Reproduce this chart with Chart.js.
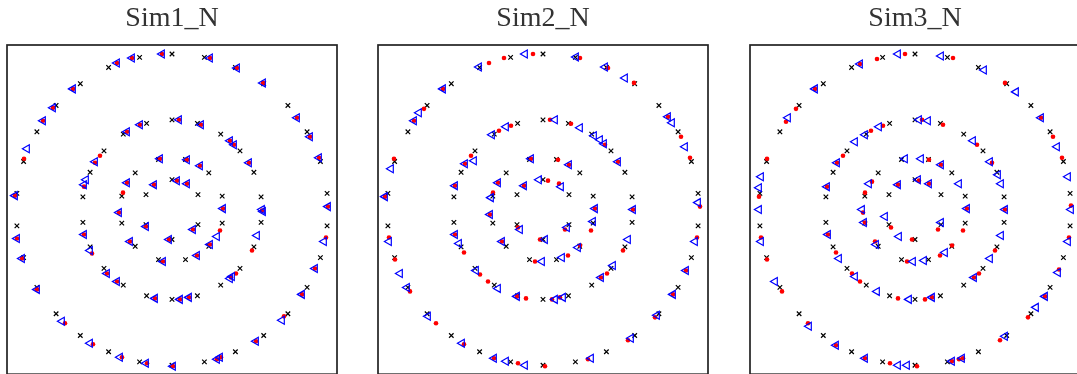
<!DOCTYPE html>
<html>
<head>
<meta charset="utf-8">
<script src="https://cdn.jsdelivr.net/npm/chart.js@4.4.1/dist/chart.umd.min.js"></script>
<style>
  html, body { margin: 0; padding: 0; background: #fff; width: 1077px; height: 374px; overflow: hidden; }
  .panel { position: absolute; top: 0; width: 370px; height: 380px; }
</style>
</head>
<body>
<div class="panel" style="left:-13px"><canvas id="sim1" width="370" height="380"></canvas></div>
<div class="panel" style="left:358px"><canvas id="sim2" width="370" height="380"></canvas></div>
<div class="panel" style="left:730px"><canvas id="sim3" width="370" height="380"></canvas></div>
<script>
// Reference layout: four concentric rings (shared by all three runs), [x, y]
const truePoints = [
  [0,30],[26,15],[26,-15],[0,-30],[-26,-15],[-26,15],
  [50.2,13.5],[36.8,36.8],[13.5,50.2],[-13.5,50.2],[-36.8,36.8],[-50.2,13.5],
  [-50.2,-13.5],[-36.8,-36.8],[-13.5,-50.2],[13.5,-50.2],[36.8,-36.8],[50.2,-13.5],
  [0,90],[25.4,86.4],[48.7,75.7],[68,58.9],[81.9,37.4],[89.1,12.8],[89.1,-12.8],[81.9,-37.4],
  [68,-58.9],[48.7,-75.7],[25.4,-86.4],[0,-90],[-25.4,-86.4],[-48.7,-75.7],[-68,-58.9],
  [-81.9,-37.4],[-89.1,-12.8],[-89.1,12.8],[-81.9,37.4],[-68,58.9],[-48.7,75.7],[-25.4,86.4],
  [155.1,16.3],[148.4,48.2],[135.1,78],[115.9,104.4],[91.7,126.2],[63.4,142.5],[32.4,152.6],[0,156],
  [-32.4,152.6],[-63.4,142.5],[-91.7,126.2],[-115.9,104.4],[-135.1,78],[-148.4,48.2],[-155.1,16.3],
  [-155.1,-16.3],[-148.4,-48.2],[-135.1,-78],[-115.9,-104.4],[-91.7,-126.2],[-63.4,-142.5],
  [-32.4,-152.6],[0,-156],[32.4,-152.6],[63.4,-142.5],[91.7,-126.2],[115.9,-104.4],[135.1,-78],
  [148.4,-48.2],[155.1,-16.3]
];

// Sim1: estimated positions (red) and recovered positions (blue)
const sim1Red = [
  [-10,156],[38,152],[-40,152],[-55,147],[65,142],[91,127],[-99,121],[-119,102],[-129,89],[125,92],
  [138,73],[147,52],[-148,51],[-157,14],
  [7,90],[29,85],[-32,85],[-45,78],[58,69],[62,65],[77,47],[-72,54],[-77,47],[-88,23],[-45,27],[-49,17],
  [-12,51],[15,50],[28,44],[-18,25],[5,29],[15,26],
  [156,3],[90,-1],[51,1],[-53,-3],[-155,-29],[-88,-25],[-26,-17],[21,-20],[-3,-30],[-42,-32],[-80,-44],
  [48,-21],[38,-35],[80,-41],[154,-28],[25,-46],[-9,-52],[-150,-49],[143,-59],[-65,-64],[64,-64],
  [59,-68],[-55,-72],[-135,-80],[130,-85],[-17,-89],[8,-90],[17,-88],[-107,-114],[112,-107],
  [-79,-135],[84,-132],[-50,-148],[-25,-154],[1,-157],[45,-150],[49,-148]
];
const sim1Blue = [
  [-10,156],[38,152],[-40,152],[-55,147],[65,142],[91,127],[-99,121],[-119,102],[-129,89],[125,92],
  [138,73],[147,52],[-145,61],[-157,14],
  [7,90],[29,85],[-32,85],[-45,78],[58,69],[62,65],[77,47],[-77,48],[-86,30],[-88,25],[-45,27],
  [-12,51],[15,50],[28,44],[-18,25],[5,29],[15,26],
  [156,3],[90,0],[91,-2],[51,1],[-53,-3],[-155,-29],[-88,-25],[-26,-17],[21,-20],[-3,-30],[-42,-32],
  [-82,-41],[45,-27],[38,-35],[85,-26],[152,-32],[25,-46],[-9,-52],[-150,-49],[143,-59],[-65,-64],
  [58,-69],[60,-67],[-55,-72],[-135,-80],[130,-85],[-17,-89],[8,-90],[17,-88],[-110,-112],[110,-111],
  [-82,-134],[84,-132],[-52,-148],[-26,-154],[1,-157],[45,-150],[48,-148]
];

// Sim2
const sim2Red = [
  [-10,156],[-39,152],[-54,147],[37,152],[65,142],[91,127],[-100,121],[-119,101],[-129,89],[125,93],
  [138,73],[147,52],[-149,51],[-158,13],[157,3],
  [7,90],[28,86],[-32,84],[-44,79],[62,65],[75,48],[-72,54],[-78,46],[-88,24],[-45,27],[-50,17],
  [-12,51],[15,50],[26,45],[-19,24],[5,29],[16,26],
  [52,1],[90,0],[-53,-5],[48,-21],[-25,-18],[22,-20],[-88,-25],[-79,-43],[-154,-28],[-3,-30],[-41,-32],
  [37,-36],[80,-41],[154,-28],[-8,-52],[25,-46],[-148,-50],[143,-61],[-63,-65],[-55,-72],[64,-64],
  [58,-68],[-133,-82],[130,-85],[-26,-87],[-17,-89],[9,-90],[17,-88],[-107,-114],[112,-108],
  [-79,-135],[85,-131],[-49,-149],[-25,-154],[2,-157],[45,-150]
];
const sim2Blue = [
  [-18,156],[-64,143],[33,153],[62,143],[82,132],[-100,121],[-124,97],[-129,89],[125,93],[129,87],
  [142,63],[-152,41],[-158,13],[155,7],
  [12,90],[37,82],[-37,83],[-51,75],[51,74],[57,70],[61,66],[75,48],[-69,49],[-78,46],[-88,24],
  [-45,27],[-52,12],
  [-12,51],[26,45],[-19,24],[-4,30],[18,23],
  [52,1],[90,0],[-53,-5],[50,-12],[-23,-20],[24,-18],[-88,-25],[-84,-34],[-154,-32],[2,-30],[-41,-32],
  [35,-38],[85,-30],[152,-32],[-1,-52],[19,-48],[-143,-64],[143,-61],[-67,-61],[-45,-79],[70,-56],
  [58,-68],[-136,-78],[130,-85],[-26,-87],[12,-90],[20,-88],[-115,-107],[114,-106],[-81,-134],
  [88,-129],[-49,-149],[-37,-152],[-18,-156],[48,-149]
];

// Sim3
const sim3Red = [
  [-10,156],[-38,151],[-55,146],[38,152],[90,127],[-100,121],[-119,101],[-129,88],[126,92],[138,73],
  [147,52],[-148,51],[-156,13],
  [7,90],[28,85],[-32,84],[-44,79],[62,65],[77,47],[-72,54],[-78,47],[-88,23],
  [14,50],[26,45],[-43,28],[-50,17],[-17,25],[4,29],[14,26],
  [-154,-28],[-148,-50],[-133,-82],[-107,-114],[-79,-136],[-50,-149],[-25,-154],[2,-157],[37,-152],
  [44,-150],[48,-149],[85,-131],[113,-108],[130,-87],[144,-60],[154,-28],[156,4],
  [52,1],[90,0],[-52,-3],[-50,-13],[-24,-18],[23,-20],[48,-21],[80,-41],[-87,-25],[-3,-30],[-40,-32],
  [-79,-43],[25,-46],[37,-36],[64,-64],[59,-68],[-8,-52],[-63,-64],[-55,-72],[-17,-89],[10,-90],[17,-88]
];
const sim3Blue = [
  [-17,156],[-55,146],[26,154],[69,140],[101,118],[-100,121],[-127,92],[126,92],[142,63],[153,33],
  [-154,33],[-156,22],
  [4,90],[13,89],[-36,83],[-50,75],[-60,68],[58,69],[75,48],[83,35],[86,26],[-78,47],[-88,23],
  [-10,51],[6,51],[26,45],[44,26],[-46,26],[-17,25],[3,30],[14,26],
  [-156,0],[-154,-32],[-140,-72],[-106,-117],[-79,-136],[-50,-149],[-17,-156],[-8,-156],[37,-152],
  [47,-149],[90,-127],[121,-98],[130,-87],[143,-63],[153,-32],[156,0],
  [52,1],[90,0],[-53,0],[-30,-7],[-51,-13],[26,-13],[86,-26],[-87,-25],[-16,-27],[-39,-35],[-76,-49],
  [30,-43],[75,-49],[59,-68],[-2,-52],[9,-51],[-60,-67],[-38,-82],[-6,-90],[17,-88]
];

const panels = [
  { id: 'sim1', title: 'Sim1_N', red: sim1Red, blue: sim1Blue },
  { id: 'sim2', title: 'Sim2_N', red: sim2Red, blue: sim2Blue },
  { id: 'sim3', title: 'Sim3_N', red: sim3Red, blue: sim3Blue }
];

const toXY = pts => pts.map(([x, y]) => ({ x, y }));

// Draws the closed box around the plotting area
const frameBox = {
  id: 'frameBox',
  afterDatasetsDraw(chart) {
    const { ctx, chartArea: a } = chart;
    ctx.save();
    ctx.strokeStyle = '#222222';
    ctx.lineWidth = 1.7;
    ctx.strokeRect(a.left, a.top, a.right - a.left, a.bottom - a.top);
    ctx.restore();
  }
};

panels.forEach(p => {
  new Chart(document.getElementById(p.id), {
    type: 'scatter',
    data: {
      datasets: [
        {
          label: 'recovered',
          data: toXY(p.blue),
          order: 0,
          pointStyle: 'triangle',
          pointRotation: 270,
          pointRadius: 4.6,
          pointBorderWidth: 1.2,
          pointBorderColor: '#0000ff',
          pointBackgroundColor: 'rgba(0,0,0,0)'
        },
        {
          label: 'estimated',
          data: toXY(p.red),
          order: 1,
          pointStyle: 'circle',
          pointRadius: 2.3,
          pointBorderWidth: 0,
          pointBackgroundColor: '#ff0000',
          pointBorderColor: '#ff0000'
        },
        {
          label: 'true',
          data: toXY(truePoints),
          order: 2,
          pointStyle: 'crossRot',
          pointRadius: 3.2,
          pointBorderWidth: 1.2,
          pointBorderColor: '#000000'
        }
      ]
    },
    options: {
      responsive: false,
      animation: false,
      events: [],
      layout: { padding: { left: 20, right: 20, top: 0, bottom: 5 } },
      scales: {
        x: { type: 'linear', min: -165, max: 165, display: false },
        y: { type: 'linear', min: -165, max: 165, display: false }
      },
      plugins: {
        legend: { display: false },
        tooltip: { enabled: false },
        title: {
          display: true,
          text: p.title,
          color: '#333333',
          font: { family: 'Liberation Serif', size: 28, weight: 'normal', lineHeight: 1.2 },
          padding: { top: 2, bottom: 9.4 }
        }
      }
    },
    plugins: [frameBox]
  });
});
</script>
</body>
</html>
